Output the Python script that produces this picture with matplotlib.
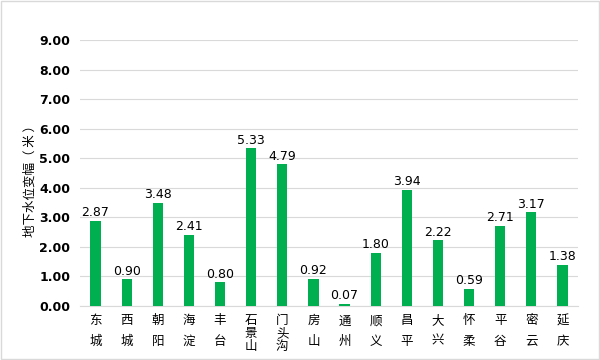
import matplotlib
matplotlib.use("Agg")
import matplotlib.pyplot as plt
from matplotlib.patches import Rectangle

plt.rcParams['font.family'] = ['Noto Sans CJK SC', 'DejaVu Sans']

districts = ['东城', '西城', '朝阳', '海淀', '丰台', '石景山', '门头沟', '房山',
             '通州', '顺义', '昌平', '大兴', '怀柔', '平谷', '密云', '延庆']
values = [2.87, 0.90, 3.48, 2.41, 0.80, 5.33, 4.79, 0.92,
          0.07, 1.80, 3.94, 2.22, 0.59, 2.71, 3.17, 1.38]
yticks = [0, 1, 2, 3, 4, 5, 6, 7, 8, 9]

fig = plt.figure(figsize=(6, 3.6), dpi=100)
ax = fig.add_axes([80/600, 1-306/360, 498/600, 266/360])

x = list(range(len(districts)))
bars = ax.bar(x, values, width=0.33, color='#00B050', zorder=3)
for xi, v in zip(x, values):
    ax.text(xi, v + 0.06, f'{v:.2f}', ha='center', va='bottom', fontsize=9,
            family='DejaVu Sans', color='#000000')

ax.set_xlim(-0.5, len(districts) - 0.5)
ax.set_ylim(0, 9)
ax.set_yticks(yticks)
ax.set_yticklabels([f'{t:.2f}' for t in yticks], fontsize=9, fontweight='bold',
                   family='DejaVu Sans')
ax.grid(axis='y', color='#d9d9d9', linewidth=0.8, zorder=0)
for s in ['top', 'right', 'left']:
    ax.spines[s].set_visible(False)
ax.spines['bottom'].set_color('#d9d9d9')
ax.tick_params(axis='both', length=0)
ax.tick_params(axis='y', pad=7)

ax.set_xticks(x)
labels = ax.set_xticklabels(['\n'.join(d) for d in districts], fontsize=9)
for lab, d in zip(labels, districts):
    if len(d) == 3:
        lab.set_linespacing(1.0)
    else:
        lab.set_linespacing(1.75)
ax.tick_params(axis='x', pad=6)

ax.set_ylabel('地下水位变幅（ 米 ）', fontsize=9)
ax.yaxis.set_label_coords(-0.087, 0.48)

fig.patches.append(Rectangle((0.002, 0.003), 0.996, 0.994, transform=fig.transFigure,
                             fill=False, edgecolor='#d9d9d9', linewidth=1))

fig.savefig('out.png', dpi=100)
